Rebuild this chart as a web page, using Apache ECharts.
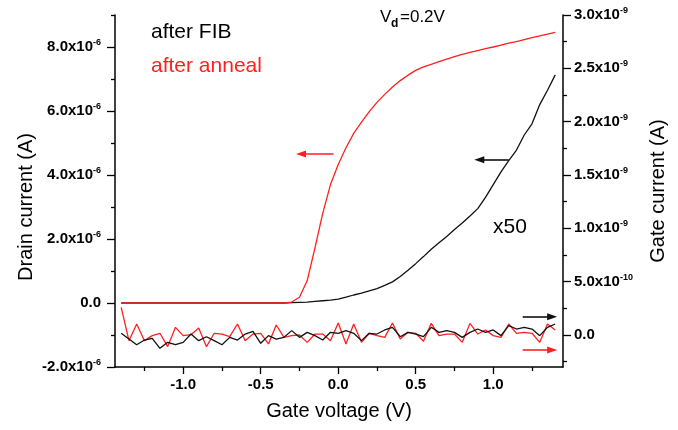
<!DOCTYPE html>
<html><head><meta charset="utf-8">
<script src="https://cdn.jsdelivr.net/npm/echarts@6/dist/echarts.min.js"></script>
<style>html,body{margin:0;padding:0;background:#fff}#c{width:678px;height:430px}</style>
</head><body><div id="c"></div>
<script>
// Gate voltage (V)
const gateVoltage = [-1.40,-1.35,-1.30,-1.25,-1.20,-1.15,-1.10,-1.05,-1.00,-0.95,-0.90,-0.85,-0.80,-0.75,-0.70,-0.65,-0.60,-0.55,-0.50,-0.45,-0.40,-0.35,-0.30,-0.25,-0.20,-0.15,-0.10,-0.05,0.00,0.05,0.10,0.15,0.20,0.25,0.30,0.35,0.40,0.45,0.50,0.55,0.60,0.65,0.70,0.75,0.80,0.85,0.90,0.95,1.00,1.05,1.10,1.15,1.20,1.25,1.30,1.35,1.40];
// Drain current, units of 1e-6 A
const drainAnneal = [0,0,0,0,0,0,0,0,0,0,0,0,0,0,0,0,0,0,0,0,0,0,
  0.03,0.18,0.7,1.72,2.8,3.7,4.33,4.85,5.3,5.65,5.98,6.27,6.52,6.75,6.95,7.12,7.27,7.38,7.46,7.54,7.62,7.7,7.77,7.83,7.89,7.95,8.0,8.06,8.12,8.17,8.23,8.29,8.35,8.4,8.46];
// after FIB drain current (x50), units of 1e-6 A
const drainFIBx50 = [0,0,0,0,0,0,0,0,0,0,0,0,0,0,0,0,0,0,0,0,0,0,
  0.01,0.02,0.03,0.05,0.07,0.09,0.12,0.18,0.25,0.31,0.38,0.45,0.55,0.66,0.83,1.02,1.23,1.45,1.68,1.88,2.08,2.3,2.5,2.72,2.95,3.3,3.7,4.1,4.45,4.78,5.25,5.6,6.2,6.65,7.13];
// Gate current, units of 1e-10 A
const gateAnneal = [2.59,-0.53,1.03,-0.53,-0.06,0.16,-1.09,0.72,-0.06,0.03,0.66,-1.09,0.16,0.09,-0.16,1.03,-0.53,0.09,0.16,-0.84,0.94,-0.22,-0.06,0,-0.69,0.09,0.09,-0.53,1.13,-0.84,1.03,-0.69,0.16,-0.06,-0.22,1.13,-0.38,0.25,0.16,-0.59,1.09,-0.06,0.09,0.09,-0.69,1.09,0.09,0.47,-0.06,-0.22,1.03,0.16,0.25,0.16,-0.69,1.03,0.47];
const gateFIB = [0.16,-0.38,-0.91,-0.47,-0.31,-1.25,-0.69,-0.91,-0.69,0.09,-0.53,-0.16,-0.53,-0.91,-0.22,-0.47,0.09,0.34,-0.78,-0.06,-0.38,-0.22,0.41,-0.22,0.25,-0.06,-0.47,0.25,0.16,0.41,0.16,-0.53,0.16,0.09,0.47,0.72,-0.16,0.25,0.09,-0.16,0.72,0.25,0.41,0.25,-0.22,0.25,0.56,0.25,0.47,-0.06,0.88,0.56,0.72,0.56,-0.06,0.72,1.03];

// Tick values and labels
const xTicks = [-1.0,-0.5,0.0,0.5,1.0];
const xTickLabels = ['-1.0','-0.5','0.0','0.5','1.0'];
const xMinorTicks = [-1.25,-0.75,-0.25,0.25,0.75,1.25];
const leftTicks = [-2,0,2,4,6,8];
const leftTickLabels = [['-2.0x10','-6'],['0.0',''],['2.0x10','-6'],['4.0x10','-6'],['6.0x10','-6'],['8.0x10','-6']];
const leftMinorTicks = [-1,1,3,5,7,9];
const rightTicks = [0,5,10,15,20,25,30];
const rightTickLabels = [['0.0',''],['5.0x10','-10'],['1.0x10','-9'],['1.5x10','-9'],['2.0x10','-9'],['2.5x10','-9'],['3.0x10','-9']];
const rightMinorTicks = [-2.5,2.5,7.5,12.5,17.5,22.5,27.5];

// Annotation arrows [x1, y1, x2, y2] in data units (tip at x2,y2)
const arrowAnnealDrain = [-0.03, 4.66, -0.24, 4.66];
const arrowFIBDrain = [1.10, 4.48, 0.91, 4.48];
const arrowFIBGate = [1.19, 1.72, 1.38, 1.72];
const arrowAnnealGate = [1.19, -1.41, 1.38, -1.41];

const FONT = 'Liberation Sans, Arial, sans-serif';
const RED = '#ff1f1f', BLACK = '#111';

function pairs(ys){ return gateVoltage.map((x,i)=>[x, ys[i]]); }
function labelFmt(ticks, labels){
  return function(v){
    for (let i=0;i<ticks.length;i++){
      if (Math.abs(ticks[i]-v)<1e-9){
        const l = labels[i];
        return l[1] ? '{b|'+l[0]+'}{s|'+l[1]+'}' : '{b|'+l[0]+'}';
      }
    }
    return '';
  };
}
const richLbl = {
  b:{fontFamily:FONT,fontSize:15,fontWeight:'bold',color:'#000',lineHeight:18},
  s:{fontFamily:FONT,fontSize:9,fontWeight:'bold',color:'#000',lineHeight:12,verticalAlign:'top'}
};
function arrowLine(a, color){
  return {
    silent:true, symbol:['none','triangle'], symbolSize:[7,10],
    label:{show:false},
    lineStyle:{color:color,width:1.6,type:'solid'},
    emphasis:{disabled:true},
    data:[[{coord:[a[0],a[1]]},{coord:[a[2],a[3]]}]]
  };
}

const axisLineStyle = {show:true,onZero:false,lineStyle:{color:'#000',width:1.5}};
const noLine = {show:false,onZero:false};
const chart = echarts.init(document.getElementById('c'));
chart.setOption({
  animation:false,
  backgroundColor:'#fff',
  grid:{left:115,right:115,top:15,bottom:63},
  xAxis:[{
    type:'value',min:-1.44,max:1.45,position:'bottom',
    axisLine:axisLineStyle,
    axisTick:{show:true,inside:false,length:7,customValues:xTicks,lineStyle:{color:'#000',width:1.3}},
    axisLabel:{customValues:xTicks,margin:9,formatter:labelFmt(xTicks,xTickLabels.map(s=>[s,''])),rich:richLbl},
    splitLine:{show:false},
    name:'Gate voltage (V)',nameLocation:'middle',nameGap:34,
    nameTextStyle:{fontFamily:FONT,fontSize:20,color:'#000'}
  },{
    type:'value',min:-1.44,max:1.45,position:'bottom',
    axisLine:noLine,
    axisTick:{show:true,length:4,customValues:xMinorTicks,lineStyle:{color:'#000',width:1.3}},
    axisLabel:{show:false},splitLine:{show:false}
  }],
  yAxis:[{
    type:'value',min:-2,max:9,position:'left',
    axisLine:axisLineStyle,
    axisTick:{show:true,length:8,customValues:leftTicks,lineStyle:{color:'#000',width:1.3}},
    axisLabel:{customValues:leftTicks,margin:14,formatter:labelFmt(leftTicks,leftTickLabels),rich:richLbl},
    splitLine:{show:false}
  },{
    type:'value',min:-3,max:30,position:'right',
    axisLine:axisLineStyle,
    axisTick:{show:true,length:8,customValues:rightTicks,lineStyle:{color:'#000',width:1.3}},
    axisLabel:{customValues:rightTicks,margin:11,formatter:labelFmt(rightTicks,rightTickLabels),rich:richLbl},
    splitLine:{show:false},
    name:'Gate current (A)',nameLocation:'middle',nameGap:85,nameRotate:90,
    nameTextStyle:{fontFamily:FONT,fontSize:20,color:'#000'}
  },{
    type:'value',min:-2,max:9,position:'left',
    axisLine:noLine,
    axisTick:{show:true,length:4,customValues:leftMinorTicks,lineStyle:{color:'#000',width:1.3}},
    axisLabel:{show:false},splitLine:{show:false}
  },{
    type:'value',min:-3,max:30,position:'right',
    axisLine:noLine,
    axisTick:{show:true,length:4,customValues:rightMinorTicks,lineStyle:{color:'#000',width:1.3}},
    axisLabel:{show:false},splitLine:{show:false}
  }],
  series:[
    {type:'line',name:'after FIB drain',xAxisIndex:0,yAxisIndex:0,data:pairs(drainFIBx50),showSymbol:false,
     lineStyle:{color:BLACK,width:1.3},itemStyle:{color:BLACK},markLine:arrowLine(arrowFIBDrain,BLACK)},
    {type:'line',name:'after anneal drain',xAxisIndex:0,yAxisIndex:0,data:pairs(drainAnneal),showSymbol:false,
     lineStyle:{color:RED,width:1.3},itemStyle:{color:RED},markLine:arrowLine(arrowAnnealDrain,RED)},
    {type:'line',name:'after anneal gate',xAxisIndex:0,yAxisIndex:1,data:pairs(gateAnneal),showSymbol:false,
     lineStyle:{color:RED,width:1.3},itemStyle:{color:RED},markLine:arrowLine(arrowAnnealGate,RED)},
    {type:'line',name:'after FIB gate',xAxisIndex:0,yAxisIndex:1,data:pairs(gateFIB),showSymbol:false,
     lineStyle:{color:BLACK,width:1.3},itemStyle:{color:BLACK},markLine:arrowLine(arrowFIBGate,BLACK)}
  ],
  graphic:[
    {type:'text',x:26,y:207,rotation:Math.PI/2,style:{text:'Drain current (A)',fontFamily:FONT,fontSize:20,fill:'#000',align:'center',verticalAlign:'middle'}},
    {type:'text',x:151,y:32.7,style:{text:'after FIB',fontFamily:FONT,fontSize:21,fill:'#000',align:'left',verticalAlign:'middle'}},
    {type:'text',x:151,y:66,style:{text:'after anneal',fontFamily:FONT,fontSize:21,fill:RED,align:'left',verticalAlign:'middle'}},
    {type:'text',x:493,y:227.7,style:{text:'x50',fontFamily:FONT,fontSize:21,fill:'#000',align:'left',verticalAlign:'middle'}},
    {type:'text',x:380,y:17.5,style:{text:'V',fontFamily:FONT,fontSize:17,fill:'#000',align:'left',verticalAlign:'middle'}},
    {type:'text',x:391,y:24,style:{text:'d',fontFamily:FONT,fontSize:12,fontWeight:'bold',fill:'#000',align:'left',verticalAlign:'middle'}},
    {type:'text',x:400,y:17.5,style:{text:'=0.2V',fontFamily:FONT,fontSize:17,fill:'#000',align:'left',verticalAlign:'middle'}}
  ]
});
</script></body></html>
